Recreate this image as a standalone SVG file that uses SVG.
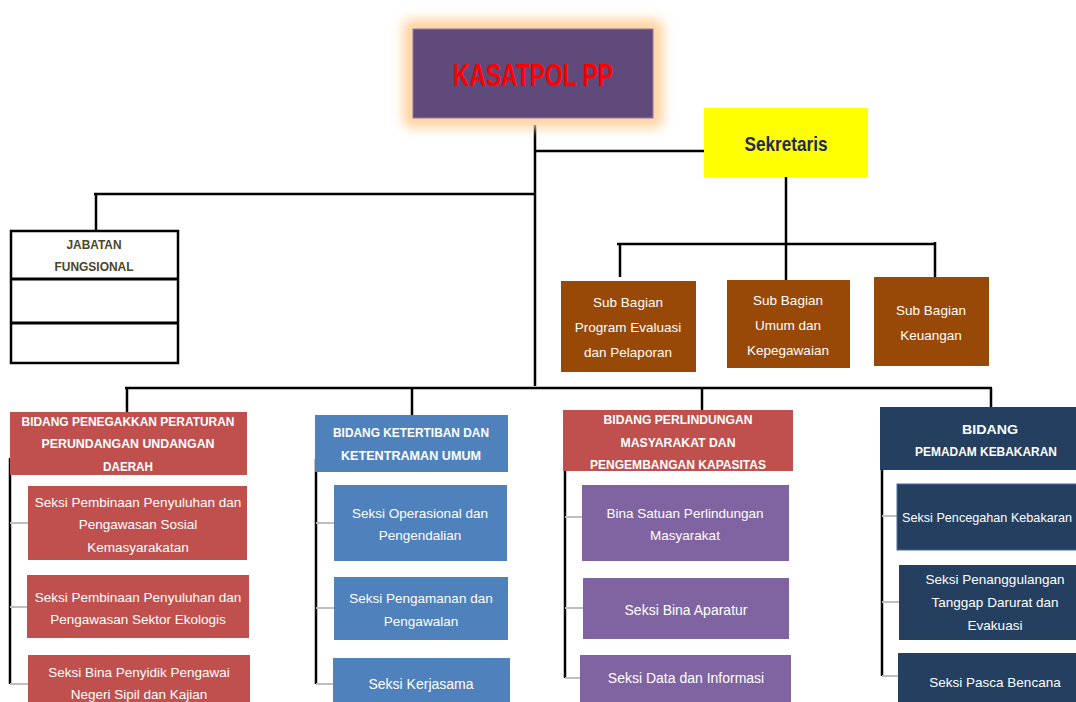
<svg xmlns="http://www.w3.org/2000/svg" width="1076" height="702" viewBox="0 0 1076 702">
<defs>
<filter id="glow" x="-30%" y="-40%" width="160%" height="180%"><feGaussianBlur stdDeviation="6"/></filter>
<style>
.t{font-family:"Liberation Sans",Arial,sans-serif;fill:#fff;text-anchor:middle;dominant-baseline:central}
.s{font-size:13.5px}
.h{font-size:12px;font-weight:bold}
.ln{stroke:#000;stroke-width:2.5;fill:none}
.st{stroke:#BFBFBF;stroke-width:2;fill:none}
.red{fill:#C0504D}.blue{fill:#4F81BD}.pur{fill:#8064A2}.navy{fill:#243F60}.brown{fill:#984807}
</style>
</defs>
<rect width="1076" height="702" fill="#fff"/>
<g id="connectors">
<path class="ln" d="M535 125V386M535 151H704M94 194H535M96 194V231M125 388H992M127 388V412M412 388V415M702 388V410M991 388V407"/>
<path class="ln" d="M786 177V280M617 244H936M620 244V277M935 242V277"/>
<path class="ln" d="M10 458V684M316 459V684M565 462V678M882 450V676"/>
<path class="st" d="M10 523H28M10 607H27M10 684H28M316 523H334M316 608H334M316 684H333M565 517H582M565 608H583M565 678H580M882 516H897M882 602H899M882 676H898"/>
</g>
<g id="kasatpol">
<rect x="403" y="19" width="260" height="109" rx="8" fill="#FFD3A0" filter="url(#glow)"/>
<rect x="413" y="29" width="240" height="89" fill="#604A7B" stroke="#8E7AA6" stroke-width="1"/>
<text class="t" x="533" y="75" style="font-size:31px;font-weight:bold;fill:#FF0000" textLength="160" lengthAdjust="spacingAndGlyphs">KASATPOL PP</text>
</g>
<g id="sekretaris">
<rect x="704" y="108" width="164" height="69" fill="#FFFF00"/>
<text class="t" x="786" y="143" style="font-size:21px;font-weight:bold;fill:#1F2A5C" textLength="83" lengthAdjust="spacingAndGlyphs">Sekretaris</text>
</g>
<g id="jabatan">
<rect x="11" y="231" width="167" height="132" fill="#fff" stroke="#000" stroke-width="2.5"/>
<path d="M11 279H178M11 323H178" stroke="#000" stroke-width="3"/>
<text class="t h" x="94" y="245" style="fill:#4A4626" textLength="55" lengthAdjust="spacingAndGlyphs">JABATAN</text>
<text class="t h" x="94" y="267" style="fill:#4A4626" textLength="79" lengthAdjust="spacingAndGlyphs">FUNGSIONAL</text>
</g>
<g id="sub1">
<rect class="brown" x="561" y="281" width="135" height="91"/>
<text class="t s" x="628" y="302">Sub Bagian</text>
<text class="t s" x="628" y="327">Program Evaluasi</text>
<text class="t s" x="628" y="352">dan Pelaporan</text>
</g>
<g id="sub2">
<rect class="brown" x="727" y="280" width="123" height="88"/>
<text class="t s" x="788" y="300">Sub Bagian</text>
<text class="t s" x="788" y="325">Umum dan</text>
<text class="t s" x="788" y="350">Kepegawaian</text>
</g>
<g id="sub3">
<rect class="brown" x="874" y="277" width="115" height="89"/>
<text class="t s" x="931" y="310">Sub Bagian</text>
<text class="t s" x="931" y="335">Keuangan</text>
</g>
<g id="bidang1">
<rect class="red" x="10" y="412" width="237" height="63"/>
<text class="t h" x="128" y="422" textLength="213" lengthAdjust="spacingAndGlyphs">BIDANG  PENEGAKKAN PERATURAN</text>
<text class="t h" x="128" y="444" textLength="173" lengthAdjust="spacingAndGlyphs">PERUNDANGAN UNDANGAN</text>
<text class="t h" x="128" y="467" textLength="50" lengthAdjust="spacingAndGlyphs">DAERAH</text>
</g>
<g id="seksi1a">
<rect class="red" x="28" y="486" width="219" height="74"/>
<text class="t s" x="138" y="502">Seksi Pembinaan Penyuluhan dan</text>
<text class="t s" x="138" y="524">Pengawasan Sosial</text>
<text class="t s" x="138" y="547">Kemasyarakatan</text>
</g>
<g id="seksi1b">
<rect class="red" x="27" y="575" width="222" height="63"/>
<text class="t s" x="138" y="597">Seksi Pembinaan Penyuluhan dan</text>
<text class="t s" x="138" y="619">Pengawasan Sektor Ekologis</text>
</g>
<g id="seksi1c">
<rect class="red" x="28" y="655" width="222" height="60"/>
<text class="t s" x="139" y="672">Seksi Bina Penyidik Pengawai</text>
<text class="t s" x="139" y="694">Negeri Sipil dan Kajian</text>
</g>
<g id="bidang2">
<rect class="blue" x="315" y="415" width="193" height="57"/>
<text class="t h" x="411" y="433" textLength="156" lengthAdjust="spacingAndGlyphs">BIDANG KETERTIBAN DAN</text>
<text class="t h" x="411" y="456" textLength="140" lengthAdjust="spacingAndGlyphs">KETENTRAMAN UMUM</text>
</g>
<g id="seksi2a">
<rect class="blue" x="334" y="485" width="173" height="76"/>
<text class="t s" x="420" y="513">Seksi Operasional dan</text>
<text class="t s" x="420" y="535">Pengendalian</text>
</g>
<g id="seksi2b">
<rect class="blue" x="334" y="577" width="174" height="63"/>
<text class="t s" x="421" y="598">Seksi Pengamanan dan</text>
<text class="t s" x="421" y="621">Pengawalan</text>
</g>
<g id="seksi2c">
<rect class="blue" x="333" y="658" width="177" height="50"/>
<text class="t s" x="421" y="684" style="font-size:14px">Seksi Kerjasama</text>
</g>
<g id="bidang3">
<rect class="red" x="563" y="410" width="230" height="61"/>
<text class="t h" x="678" y="420" textLength="149" lengthAdjust="spacingAndGlyphs">BIDANG PERLINDUNGAN</text>
<text class="t h" x="678" y="443" textLength="115" lengthAdjust="spacingAndGlyphs">MASYARAKAT DAN</text>
<text class="t h" x="678" y="465" textLength="176" lengthAdjust="spacingAndGlyphs">PENGEMBANGAN KAPASITAS</text>
</g>
<g id="seksi3a">
<rect class="pur" x="582" y="485" width="207" height="76"/>
<text class="t s" x="685" y="513">Bina Satuan Perlindungan</text>
<text class="t s" x="685" y="535">Masyarakat</text>
</g>
<g id="seksi3b">
<rect class="pur" x="583" y="578" width="206" height="61"/>
<text class="t s" x="686" y="610" style="font-size:14px">Seksi Bina Aparatur</text>
</g>
<g id="seksi3c">
<rect class="pur" x="580" y="655" width="211" height="55"/>
<text class="t s" x="686" y="678" style="font-size:14px">Seksi Data dan Informasi</text>
</g>
<g id="bidang4">
<rect class="navy" x="880" y="407" width="220" height="63"/>
<text class="t h" x="990" y="430" textLength="56" lengthAdjust="spacingAndGlyphs">BIDANG</text>
<text class="t h" x="986" y="452" textLength="142" lengthAdjust="spacingAndGlyphs">PEMADAM KEBAKARAN</text>
</g>
<g id="seksi4a">
<rect class="navy" x="897" y="484" width="200" height="66" stroke="#4A6A9A" stroke-width="1"/>
<text class="t s" x="987" y="517" textLength="170" lengthAdjust="spacingAndGlyphs">Seksi Pencegahan Kebakaran</text>
</g>
<g id="seksi4b">
<rect class="navy" x="899" y="565" width="197" height="75"/>
<text class="t s" x="995" y="579">Seksi Penanggulangan</text>
<text class="t s" x="995" y="602">Tanggap Darurat dan</text>
<text class="t s" x="995" y="625">Evakuasi</text>
</g>
<g id="seksi4c">
<rect class="navy" x="898" y="653" width="198" height="55"/>
<text class="t s" x="995" y="682">Seksi Pasca Bencana</text>
</g>
</svg>
